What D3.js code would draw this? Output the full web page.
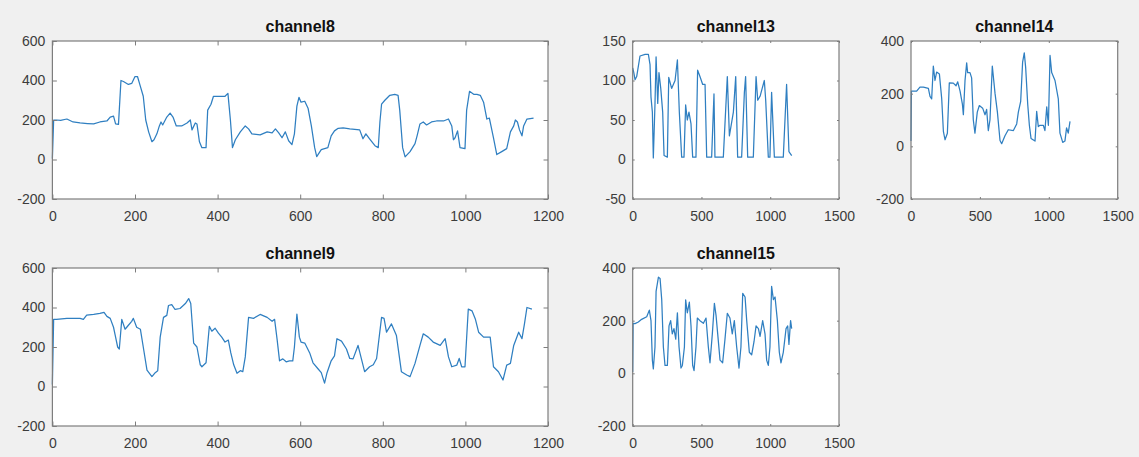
<!DOCTYPE html>
<html>
<head>
<meta charset="utf-8">
<script src="https://cdn.jsdelivr.net/npm/d3@7/dist/d3.min.js"></script>
<style>
  html, body { margin: 0; padding: 0; background: #f0f0f0; }
  svg { display: block; }
</style>
</head>
<body>
<svg id="chart" width="1139" height="457"></svg>
<script>
// ---------- data (x = sample index, y = value) ----------
const channel8 = [[0,5],[3,200],[10,200],[20,198],[35,205],[50,190],[67,185],[85,182],[100,180],[115,190],[132,195],[140,215],[148,220],[153,180],[160,178],[166,400],[172,395],[184,380],[192,385],[200,420],[206,420],[213,370],[220,320],[226,200],[233,140],[241,90],[246,100],[253,130],[259,170],[263,190],[267,175],[277,215],[285,235],[292,215],[300,170],[313,170],[326,185],[334,200],[338,150],[346,185],[350,180],[356,90],[362,60],[372,60],[376,250],[384,280],[390,320],[406,320],[418,320],[425,335],[431,200],[436,60],[443,100],[455,140],[467,170],[475,155],[483,130],[503,125],[520,140],[532,135],[540,155],[548,135],[556,110],[564,140],[572,95],[580,75],[586,130],[592,270],[597,315],[602,290],[611,295],[619,260],[627,170],[635,60],[640,15],[651,50],[667,60],[675,120],[683,145],[692,158],[704,160],[720,155],[744,150],[752,105],[759,130],[768,105],[781,70],[789,60],[793,190],[797,280],[805,300],[817,325],[829,330],[837,325],[841,250],[848,60],[854,13],[866,40],[878,80],[883,120],[890,180],[898,190],[906,175],[918,190],[930,195],[947,195],[959,205],[967,170],[971,100],[975,110],[981,145],[987,60],[999,55],[1003,250],[1010,345],[1020,330],[1028,330],[1036,325],[1044,290],[1052,205],[1058,210],[1068,110],[1076,25],[1088,40],[1100,55],[1109,140],[1117,170],[1121,200],[1126,190],[1131,150],[1137,120],[1141,170],[1149,205],[1165,210]];

const channel9 = [[0,10],[3,340],[10,340],[35,345],[67,345],[75,340],[83,362],[100,365],[115,370],[125,375],[132,355],[140,345],[148,300],[152,260],[158,200],[162,190],[168,340],[176,290],[184,310],[192,330],[196,345],[204,300],[213,290],[220,200],[229,83],[241,50],[249,70],[255,80],[261,250],[269,350],[277,360],[281,410],[289,415],[297,390],[309,395],[322,420],[330,445],[335,420],[342,220],[350,200],[358,110],[362,100],[372,120],[380,305],[386,280],[394,295],[402,270],[410,250],[418,225],[426,235],[432,170],[439,110],[447,67],[455,80],[461,75],[467,150],[475,350],[487,345],[503,365],[520,350],[532,330],[538,340],[544,240],[550,130],[558,140],[566,125],[574,130],[582,130],[586,200],[592,367],[598,250],[602,225],[611,220],[623,170],[631,120],[643,90],[651,70],[659,17],[665,70],[675,130],[683,155],[689,242],[700,230],[712,190],[720,142],[728,140],[740,208],[756,75],[768,100],[777,110],[785,142],[797,350],[803,345],[809,275],[821,317],[833,258],[845,75],[858,58],[866,50],[878,117],[890,208],[898,267],[910,250],[922,225],[939,208],[951,242],[959,150],[967,100],[979,108],[985,142],[991,100],[999,100],[1007,392],[1016,383],[1024,342],[1032,275],[1044,250],[1060,250],[1068,100],[1080,75],[1091,33],[1100,108],[1109,117],[1117,208],[1129,275],[1137,242],[1143,317],[1149,400],[1161,392]];

const channel13 = [[0,116],[8,110],[17,101],[29,105],[53,131],[90,133],[114,133],[126,120],[133,79],[143,60],[150,2],[162,70],[170,130],[182,71],[191,110],[204,90],[218,60],[228,5],[252,3],[262,104],[283,90],[308,100],[325,126],[339,60],[356,3],[373,3],[385,69],[397,50],[409,60],[424,45],[436,3],[460,3],[472,113],[489,105],[509,95],[526,95],[538,3],[574,3],[591,83],[598,3],[659,3],[688,105],[703,30],[732,60],[749,105],[763,3],[792,3],[812,85],[821,105],[836,3],[877,3],[897,105],[909,75],[926,80],[957,100],[967,75],[986,3],[998,3],[1010,85],[1030,3],[1095,3],[1119,95],[1136,10],[1156,5]];

const channel14 = [[0,20],[3,210],[17,210],[41,210],[65,225],[90,225],[126,220],[138,190],[150,180],[162,305],[174,250],[186,282],[206,275],[223,180],[235,57],[247,25],[264,50],[278,241],[307,240],[327,230],[339,245],[356,210],[373,160],[380,120],[392,250],[404,317],[411,280],[428,280],[440,260],[452,101],[464,50],[481,130],[496,155],[520,145],[537,120],[549,140],[561,60],[573,100],[590,305],[610,200],[627,130],[646,22],[658,10],[682,40],[706,63],[743,60],[767,85],[779,130],[796,171],[810,320],[822,355],[832,300],[847,160],[859,80],[871,30],[900,20],[912,133],[924,75],[936,80],[960,80],[972,60],[985,150],[997,80],[1009,345],[1021,280],[1045,250],[1069,180],[1081,50],[1101,15],[1117,20],[1129,70],[1141,50],[1154,95]];

const channel15 = [[0,5],[3,190],[17,189],[41,195],[65,205],[102,215],[121,240],[133,200],[143,50],[150,17],[162,100],[170,311],[187,365],[199,360],[211,280],[223,100],[235,30],[252,30],[264,180],[276,200],[288,150],[300,170],[313,130],[325,230],[337,100],[351,20],[361,30],[376,100],[385,279],[397,230],[412,270],[424,180],[436,30],[446,10],[460,100],[470,210],[489,200],[514,190],[533,210],[550,100],[562,40],[579,150],[594,266],[606,220],[618,150],[635,50],[654,40],[671,130],[688,228],[707,210],[724,150],[739,200],[756,100],[773,20],[787,100],[800,304],[817,290],[829,200],[848,80],[865,70],[882,120],[897,180],[914,170],[926,140],[945,200],[962,150],[974,50],[986,30],[998,100],[1010,330],[1023,280],[1035,290],[1052,200],[1066,80],[1078,40],[1095,80],[1115,170],[1127,180],[1136,110],[1148,200],[1156,170]];

// tick labels
const xTicksWide = [0, 200, 400, 600, 800, 1000, 1200];
const xTicksNarrow = [0, 500, 1000, 1500];
const yTicksA = [-200, 0, 200, 400, 600];
const yTicks13 = [-50, 0, 50, 100, 150];
const yTicksB = [-200, 0, 200, 400];
const titles = ["channel8", "channel9", "channel13", "channel14", "channel15"];

// ---------- layout ----------
const panels = [
  { title: titles[0], data: channel8,  left: 52.4,  right: 548,    top: 41,  bottom: 199, xd: [0, 1200], xt: xTicksWide,   yd: [-200, 600], yt: yTicksA },
  { title: titles[1], data: channel9,  left: 52.4,  right: 548,    top: 268, bottom: 426, xd: [0, 1200], xt: xTicksWide,   yd: [-200, 600], yt: yTicksA },
  { title: titles[2], data: channel13, left: 632.7, right: 839,    top: 41,  bottom: 199, xd: [0, 1500], xt: xTicksNarrow, yd: [-50, 150],  yt: yTicks13 },
  { title: titles[3], data: channel14, left: 911,   right: 1117.7, top: 41,  bottom: 199, xd: [0, 1500], xt: xTicksNarrow, yd: [-200, 400], yt: yTicksB },
  { title: titles[4], data: channel15, left: 632.7, right: 839,    top: 268, bottom: 426, xd: [0, 1500], xt: xTicksNarrow, yd: [-200, 400], yt: yTicksB }
];

const svg = d3.select("#chart");
svg.append("rect").attr("width", 1139).attr("height", 457).attr("fill", "#f0f0f0");

const FONT = "'Liberation Sans', Arial, Helvetica, sans-serif";
const LINE = "#2f7fc1";
const AXC = "#7d7d7d";
const fmt = d => String(d);

panels.forEach(p => {
  const w = p.right - p.left, h = p.bottom - p.top;
  const x = d3.scaleLinear().domain(p.xd).range([p.left, p.right]);
  const y = d3.scaleLinear().domain(p.yd).range([p.bottom, p.top]);
  const tl = Math.max(2, 0.009 * Math.max(w, h));

  const g = svg.append("g");
  g.append("rect").attr("x", p.left).attr("y", p.top).attr("width", w).attr("height", h)
    .attr("fill", "#ffffff");

  // line
  g.append("path").datum(p.data)
    .attr("fill", "none").attr("stroke", LINE).attr("stroke-width", 1.25)
    .attr("stroke-linejoin", "round")
    .attr("d", d3.line().x(d => x(d[0])).y(d => y(d[1])));

  // axes
  const styleAxis = sel => {
    sel.select(".domain").remove();
    sel.selectAll(".tick line").attr("stroke", AXC).attr("stroke-width", 1);
    sel.selectAll(".tick text").attr("fill", "#3c3c3c").attr("font-size", "14px")
      .attr("font-family", FONT);
  };
  g.append("g").attr("transform", `translate(0,${p.bottom})`)
    .call(d3.axisBottom(x).tickValues(p.xt).tickSize(-tl).tickPadding(12).tickFormat(fmt))
    .call(styleAxis);
  g.append("g").attr("transform", `translate(0,${p.top})`)
    .call(d3.axisTop(x).tickValues(p.xt).tickSize(-tl).tickFormat(""))
    .call(styleAxis);
  g.append("g").attr("transform", `translate(${p.left},0)`)
    .call(d3.axisLeft(y).tickValues(p.yt).tickSize(-tl).tickPadding(7).tickFormat(fmt))
    .call(styleAxis);
  g.append("g").attr("transform", `translate(${p.right},0)`)
    .call(d3.axisRight(y).tickValues(p.yt).tickSize(-tl).tickFormat(""))
    .call(styleAxis);

  // box
  g.append("rect").attr("x", p.left).attr("y", p.top).attr("width", w).attr("height", h)
    .attr("fill", "none").attr("stroke", AXC).attr("stroke-width", 1.2);

  // title
  g.append("text").attr("x", (p.left + p.right) / 2).attr("y", p.top - 9)
    .attr("text-anchor", "middle").attr("font-family", FONT).attr("font-weight", "bold")
    .attr("font-size", "16px").attr("fill", "#111").text(p.title);
});
</script>
</body>
</html>
